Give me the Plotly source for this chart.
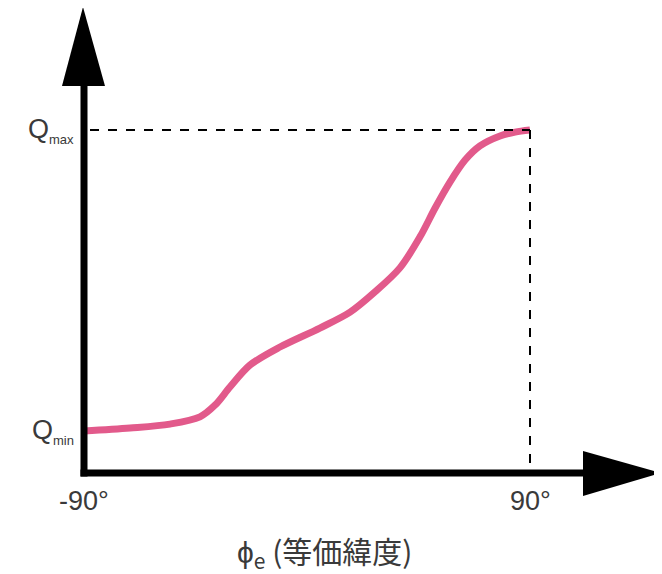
import plotly.graph_objects as go

# Data (x: equivalent latitude in degrees, y: normalized Q, 0=Qmin, 1=Qmax)
phi_e = [-90, -71.4, -55.3, -43.2, -37.1, -31.1, -23.0, -10.9, 5.2, 17.4, 27.4,
         37.5, 45.6, 51.7, 57.7, 63.8, 69.8, 77.9, 84.0, 90]
q_vals = [0.0, 0.010, 0.023, 0.047, 0.086, 0.146, 0.219, 0.279, 0.342, 0.395, 0.462,
          0.542, 0.645, 0.741, 0.827, 0.900, 0.947, 0.980, 0.993, 1.0]
x_ticks = [-90, 90]
x_tick_labels = ["-90°", "90°"]
y_ticks = [0, 1]
y_tick_labels = ["Q<sub><span style='font-size:13px'>min</span></sub>",
                 "Q<sub><span style='font-size:13px'>max</span></sub>"]
x_title = "ϕ<sub>e</sub> (等価緯度)"

W, H = 662, 574
OFF = 8  # page body margin
# pixel anchors (screen coords)
px_x0, px_x1 = 84 - OFF, 530 - OFF     # -90 and 90
px_y0, px_y1 = 431 - OFF, 130 - OFF    # Qmin and Qmax
sx = (px_x1 - px_x0) / (x_ticks[1] - x_ticks[0])
sy = (px_y0 - px_y1) / (y_ticks[1] - y_ticks[0])
xr = [x_ticks[0] - px_x0 / sx, x_ticks[0] + (W - px_x0) / sx]
yr = [y_ticks[0] - (H - px_y0) / sy, y_ticks[0] + px_y0 / sy]


def dx(px):
    return x_ticks[0] + (px - OFF - px_x0) / sx


def dy(py):
    return y_ticks[0] + (px_y0 - (py - OFF)) / sy


fig = go.Figure()
fig.add_trace(go.Scatter(x=phi_e, y=q_vals, mode="lines",
                         line=dict(color="#E25A8B", width=7, shape="spline", smoothing=0.9),
                         hoverinfo="skip"))

axis_y = dy(473)
axis_x = dx(84)
shapes = []
# dashed guide lines
shapes.append(dict(type="line", x0=dx(90), x1=x_ticks[1], y0=y_ticks[1], y1=y_ticks[1],
                   line=dict(color="black", width=2, dash="dash")))
shapes.append(dict(type="line", x0=x_ticks[1], x1=x_ticks[1], y0=y_ticks[1], y1=axis_y,
                   line=dict(color="black", width=2, dash="dash")))
# axes lines
shapes.append(dict(type="line", x0=axis_x, x1=axis_x, y0=axis_y - 3.5 / sy, y1=dy(80),
                   line=dict(color="black", width=7)))
shapes.append(dict(type="line", x0=axis_x - 3.5 / sx, x1=dx(590), y0=axis_y, y1=axis_y,
                   line=dict(color="black", width=7)))
# arrowheads
shapes.append(dict(type="path",
                   path=f"M {dx(62)} {dy(86)} L {dx(83)} {dy(7)} L {dx(105)} {dy(86)} Z",
                   fillcolor="black", line=dict(width=0)))
shapes.append(dict(type="path",
                   path=f"M {dx(583)} {dy(451)} L {dx(661)} {axis_y} L {dx(583)} {dy(496)} Z",
                   fillcolor="black", line=dict(width=0)))

font_tick = dict(family="Liberation Sans, Arial, sans-serif", size=27, color="#3a3a3a")
font_q = dict(family="Liberation Sans, Arial, sans-serif", size=27, color="#3a3a3a")
annotations = []
for xv, t in zip(x_ticks, x_tick_labels):
    annotations.append(dict(x=xv, y=dy(501), text=t, showarrow=False, xref="x", yref="y",
                            xanchor="center", yanchor="middle", font=font_tick))
for yv, t in zip(y_ticks, y_tick_labels):
    annotations.append(dict(x=dx(76), y=yv, text=t, showarrow=False, xref="x", yref="y",
                            xanchor="right", yanchor="middle", font=font_q))
annotations.append(dict(x=dx(324), y=dy(551), text=x_title, showarrow=False, xref="x", yref="y",
                        xanchor="center", yanchor="middle",
                        font=dict(family="Noto Sans CJK JP, sans-serif", size=30, color="#3a3a3a")))

fig.update_layout(
    width=W, height=H,
    margin=dict(l=0, r=0, t=0, b=0),
    paper_bgcolor="white", plot_bgcolor="white",
    showlegend=False,
    xaxis=dict(range=xr, visible=False, fixedrange=True),
    yaxis=dict(range=yr, visible=False, fixedrange=True),
    shapes=shapes, annotations=annotations,
)
fig.write_html("out.html")
